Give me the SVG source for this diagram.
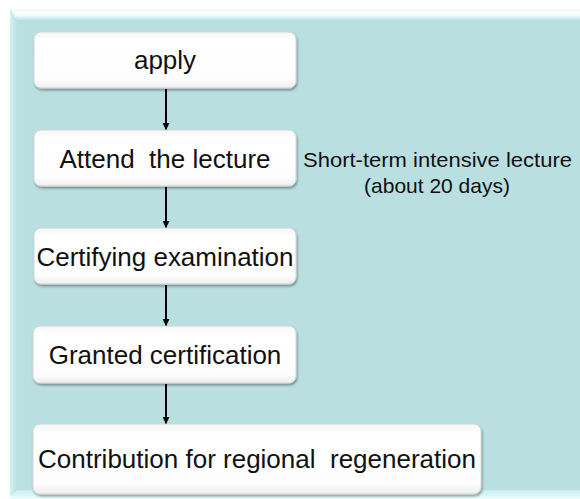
<svg xmlns="http://www.w3.org/2000/svg" width="580" height="499" viewBox="0 0 580 499">
<style>
.lbl{font-family:"Liberation Sans",Arial,sans-serif;font-size:26px;fill:#111;text-anchor:middle}
.note{font-family:"Liberation Sans",Arial,sans-serif;font-size:21px;fill:#111;text-anchor:middle}
.box{fill:url(#boxg);stroke:#d4d4d4;stroke-width:1;filter:url(#sh)}
.inner{fill:none;stroke:#fafafa;stroke-width:3}
.conn{stroke:#000;stroke-width:2;fill:none;marker-end:url(#ah)}
</style>
<defs>
<linearGradient id="boxg" x1="0" y1="0" x2="0" y2="1">
<stop offset="0" stop-color="#f6f6f6"/>
<stop offset="0.15" stop-color="#ffffff"/>
<stop offset="0.85" stop-color="#fdfdfd"/>
<stop offset="1" stop-color="#eeeeee"/>
</linearGradient>
<linearGradient id="topb" x1="0" y1="0" x2="0" y2="1">
<stop offset="0" stop-color="#f4f4f4"/>
<stop offset="0.35" stop-color="#ffffff"/>
<stop offset="0.6" stop-color="#e6ffff"/>
<stop offset="1" stop-color="#bfe3e5"/>
</linearGradient>
<linearGradient id="leftb" x1="0" y1="0" x2="1" y2="0">
<stop offset="0" stop-color="#d2f1f3"/>
<stop offset="1" stop-color="#bde2e4"/>
</linearGradient>
<linearGradient id="botb" x1="0" y1="0" x2="0" y2="1">
<stop offset="0" stop-color="#c8ecee"/>
<stop offset="1" stop-color="#eaffff"/>
</linearGradient>
<filter id="sh" x="-5%" y="-10%" width="115%" height="130%">
<feDropShadow dx="1" dy="2" stdDeviation="1.2" flood-color="#000" flood-opacity="0.35"/>
</filter>
<marker id="ah" viewBox="0 0 10 10" refX="10" refY="5" markerWidth="3.5" markerHeight="3.5" orient="auto" markerUnits="strokeWidth">
<path d="M0,0 L10,5 L0,10 z" fill="#000"/>
</marker>
</defs>
<rect x="0" y="0" width="580" height="499" fill="#ffffff"/>
<g id="panel">
<rect x="10" y="10" width="570" height="489" fill="#b9dfe1"/>
<polygon points="10,9 580,9 580,20 17,20" fill="url(#topb)"/>
<polygon points="10,10 17,20 17,488 10,495" fill="url(#leftb)"/>
<polygon points="10,495 17,490 580,490 580,499 10,499" fill="url(#botb)"/>
</g>
<g id="connectors">
<line class="conn" x1="166" y1="89" x2="166" y2="130"/>
<line class="conn" x1="166" y1="187" x2="166" y2="228"/>
<line class="conn" x1="166" y1="285" x2="166" y2="326"/>
<line class="conn" x1="166" y1="384" x2="166" y2="424"/>
</g>
<g id="apply">
<rect class="box" x="34" y="32" width="262" height="56" rx="7"/>
<text class="lbl" x="165" y="69">apply</text>
</g>
<g id="attend">
<rect class="box" x="34" y="130" width="262" height="56" rx="7"/>
<text class="lbl" x="165" y="167.5" xml:space="preserve">Attend  the lecture</text>
</g>
<g id="certifying">
<rect class="box" x="34" y="228" width="262" height="56" rx="7"/>
<text class="lbl" x="165" y="266" textLength="257" lengthAdjust="spacingAndGlyphs">Certifying examination</text>
</g>
<g id="granted">
<rect class="box" x="33" y="326" width="263" height="57" rx="7"/>
<text class="lbl" x="165" y="364">Granted certification</text>
</g>
<g id="contribution">
<rect class="box" x="33" y="424" width="448" height="70" rx="7"/>
<text class="lbl" x="257" y="468" xml:space="preserve">Contribution for regional  regeneration</text>
</g>
<g id="note">
<text class="note" x="437.5" y="167" textLength="269" lengthAdjust="spacingAndGlyphs">Short-term intensive lecture</text>
<text class="note" x="437" y="193">(about 20 days)</text>
</g>
</svg>
